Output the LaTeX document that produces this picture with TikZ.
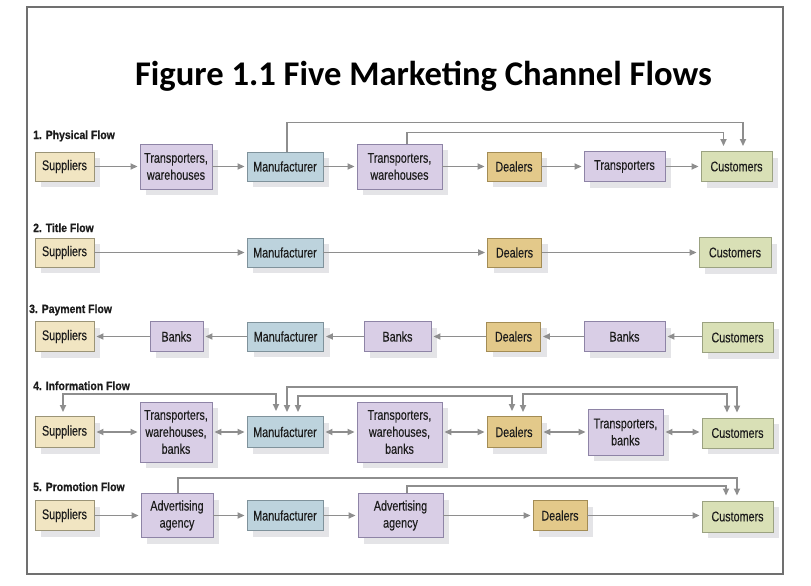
\documentclass[tikz,border=0pt]{standalone}
\usepackage{fontspec}
\setmainfont{Liberation Sans}
\newfontfamily\condfont[FakeStretch=0.77, FakeBold=0.25]{Liberation Sans}
\newfontfamily\labfont[FakeStretch=0.87, FakeBold=0.6]{Liberation Sans Bold}
\newfontfamily\titlefont{Carlito Bold}
\usetikzlibrary{arrows.meta,shadows,calc}
\definecolor{framec}{HTML}{707070}
\definecolor{shadowc}{HTML}{E4E4E7}
\definecolor{arrc}{HTML}{8E8E8E}
\definecolor{txtc}{HTML}{1C1C1C}
\definecolor{supf}{HTML}{F1E5C2}\definecolor{supd}{HTML}{9B9477}
\definecolor{purf}{HTML}{D9CEE6}\definecolor{purd}{HTML}{8E84A6}
\definecolor{manf}{HTML}{BDD3DD}\definecolor{mand}{HTML}{7F929B}
\definecolor{deaf}{HTML}{E3C98A}\definecolor{dead}{HTML}{A38C55}
\definecolor{cusf}{HTML}{D9E0B6}\definecolor{cusd}{HTML}{9BA281}
\tikzset{
  box/.style={rectangle, inner sep=0pt, line width=0.9pt, align=center,
    text=txtc, font=\condfont\fontsize{14}{17}\selectfont,
    general shadow={fill=shadowc, shadow xshift=6pt, shadow yshift=-6pt}},
  supbox/.style={box, fill=supf, draw=supd, minimum width=59pt, minimum height=29pt},
  purbox/.style={box, fill=purf, draw=purd},
  manbox/.style={box, fill=manf, draw=mand, minimum width=76pt, minimum height=29pt},
  deabox/.style={box, fill=deaf, draw=dead, minimum width=54pt, minimum height=29pt},
  cusbox/.style={box, fill=cusf, draw=cusd, minimum width=71pt, minimum height=30pt},
  flowlab/.style={anchor=base west, inner sep=0pt, text=txtc, font=\labfont\fontsize{12}{14}\selectfont},
  tip/.tip={Triangle[length=7pt,width=6pt]},
  arr/.style={draw=arrc, line width=1.8pt, -tip, shorten >=2pt},
  darr/.style={draw=arrc, line width=1.8pt, tip-tip, shorten >=2pt, shorten <=2pt},
  lrarr/.style={draw=arrc, line width=1.8pt, tip-, shorten <=2pt},
  over/.style={draw=arrc, line width=1.8pt, -tip, shorten >=5pt},
  dover/.style={draw=arrc, line width=1.8pt, tip-tip, shorten >=5pt, shorten <=4pt},
}
\begin{document}
\begin{tikzpicture}[x=1pt,y=-1pt]
\useasboundingbox (0,0) rectangle (811,586);
\fill[white] (0,0) rectangle (811,586);
\draw[framec, line width=2pt] (27,7) rectangle (783,574);
\node[anchor=base, inner sep=0pt, font=\titlefont\fontsize{34.6}{40}\selectfont] (title) at (423.5,85) {Figure 1.1 Five Marketing Channel Flows};

% ---------- Row 1: Physical Flow
\node[flowlab] (lab1) at (33,139) {1. Physical Flow};
\node[supbox] (s1) at (64.5,166.5) {Suppliers};
\node[purbox, minimum width=72pt, minimum height=45pt] (t1a) at (176,166.5) {Transporters,\\warehouses};
\node[manbox] (m1) at (285,166.5) {Manufacturer};
\node[purbox, minimum width=85pt, minimum height=45pt] (t1b) at (399.5,166.5) {Transporters,\\warehouses};
\node[deabox] (d1) at (514,166.5) {Dealers};
\node[purbox, minimum width=81pt, minimum height=30pt] (tr1) at (624.5,166.5) {Transporters};
\node[cusbox] (c1) at (736.5,166.5) {Customers};
\draw[arr] (s1) -- (t1a);
\draw[arr] (t1a) -- (m1);
\draw[arr] (m1) -- (t1b);
\draw[arr] (t1b) -- (d1);
\draw[arr] (d1) -- (tr1);
\draw[arr] (tr1) -- (c1);
\draw[over] ([xshift=2pt]m1.north) -- ++(0,-29) -| ([xshift=6.5pt]c1.north);
\draw[over] ([xshift=7.5pt]t1b.north) -- ++(0,-11) -| ([xshift=-13pt]c1.north);

% ---------- Row 2: Title Flow
\node[flowlab] (lab2) at (33,232) {2. Title Flow};
\node[supbox] (s2) at (64.5,252.5) {Suppliers};
\node[manbox] (m2) at (285,252.5) {Manufacturer};
\node[deabox] (d2) at (514.5,252.5) {Dealers};
\node[cusbox, minimum width=72pt] (c2) at (735,252.5) {Customers};
\draw[arr] (s2) -- (m2);
\draw[arr] (m2) -- (d2);
\draw[arr] (d2) -- (c2);

% ---------- Row 3: Payment Flow
\node[flowlab] (lab3) at (29,313) {3. Payment Flow};
\node[supbox, minimum height=30pt] (s3) at (64.5,336.5) {Suppliers};
\node[purbox, minimum width=53pt, minimum height=30pt] (b3a) at (176.5,336.5) {Banks};
\node[manbox] (m3) at (285.5,336.5) {Manufacturer};
\node[purbox, minimum width=67pt, minimum height=30pt] (b3b) at (397.5,336.5) {Banks};
\node[deabox] (d3) at (513.5,336.5) {Dealers};
\node[purbox, minimum width=81pt, minimum height=30pt] (b3c) at (624.5,336.5) {Banks};
\node[cusbox] (c3) at (737.5,337.5) {Customers};
\draw[lrarr] (s3) -- (b3a);
\draw[lrarr] (b3a) -- (m3);
\draw[lrarr] (m3) -- (b3b);
\draw[lrarr] (b3b) -- (d3);
\draw[lrarr] (d3) -- (b3c);
\draw[lrarr] (b3c) -- (b3c -| c3.west);

% ---------- Row 4: Information Flow
\node[flowlab] (lab4) at (33,390) {4. Information Flow};
\node[supbox, minimum height=31pt] (s4) at (64.5,432) {Suppliers};
\node[purbox, minimum width=72pt, minimum height=60pt] (t4a) at (176,432) {Transporters,\\warehouses,\\banks};
\node[manbox, minimum height=31pt] (m4) at (285,432) {Manufacturer};
\node[purbox, minimum width=85pt, minimum height=60pt] (t4b) at (399.5,432) {Transporters,\\warehouses,\\banks};
\node[deabox, minimum height=31pt] (d4) at (514,432) {Dealers};
\node[purbox, minimum width=75pt, minimum height=46pt] (t4c) at (625.5,432) {Transporters,\\banks};
\node[cusbox] (c4) at (737.5,433) {Customers};
\draw[darr] (s4) -- (t4a);
\draw[darr] (t4a) -- (m4);
\draw[darr] (m4) -- (t4b);
\draw[darr] (t4b) -- (d4);
\draw[darr] (d4) -- (t4c);
\draw[darr] (t4c) -- (t4c -| c4.west);
\draw[dover] ([xshift=-1.5pt]s4.north) -- ++(0,-22) -| ([xshift=-9pt]m4.north);
\draw[dover] ([xshift=2pt]m4.north) -- ++(0,-29) -| ([xshift=-0.5pt]c4.north);
\draw[dover] ([xshift=13pt]m4.north) -- ++(0,-20) -| ([xshift=-2pt]d4.north);
\draw[dover] ([xshift=9pt]d4.north) -- ++(0,-22) -| ([xshift=-10.5pt]c4.north);

% ---------- Row 5: Promotion Flow
\node[flowlab] (lab5) at (33,491) {5. Promotion Flow};
\node[supbox, minimum height=30pt] (s5) at (64.5,515.5) {Suppliers};
\node[purbox, minimum width=72pt, minimum height=44pt] (a5a) at (177,515.5) {Advertising\\agency};
\node[manbox, minimum height=30pt] (m5) at (285,515.5) {Manufacturer};
\node[purbox, minimum width=85pt, minimum height=44pt] (a5b) at (400.5,515.5) {Advertising\\agency};
\node[deabox, minimum height=30pt] (d5) at (560,515.5) {Dealers};
\node[cusbox, minimum height=31pt] (c5) at (737.5,516.5) {Customers};
\draw[arr] (s5) -- (a5a);
\draw[arr] (a5a) -- (m5);
\draw[arr] (m5) -- (a5b);
\draw[arr] (a5b) -- (d5);
\draw[arr] (d5) -- (d5 -| c5.west);
\draw[over] ([xshift=1pt]a5a.north) -- ++(0,-15) -| ([xshift=-0.5pt]c5.north);
\draw[over] ([xshift=6.5pt]a5b.north) -- ++(0,-7) -| ([xshift=-11.5pt]c5.north);
\end{tikzpicture}
\end{document}
